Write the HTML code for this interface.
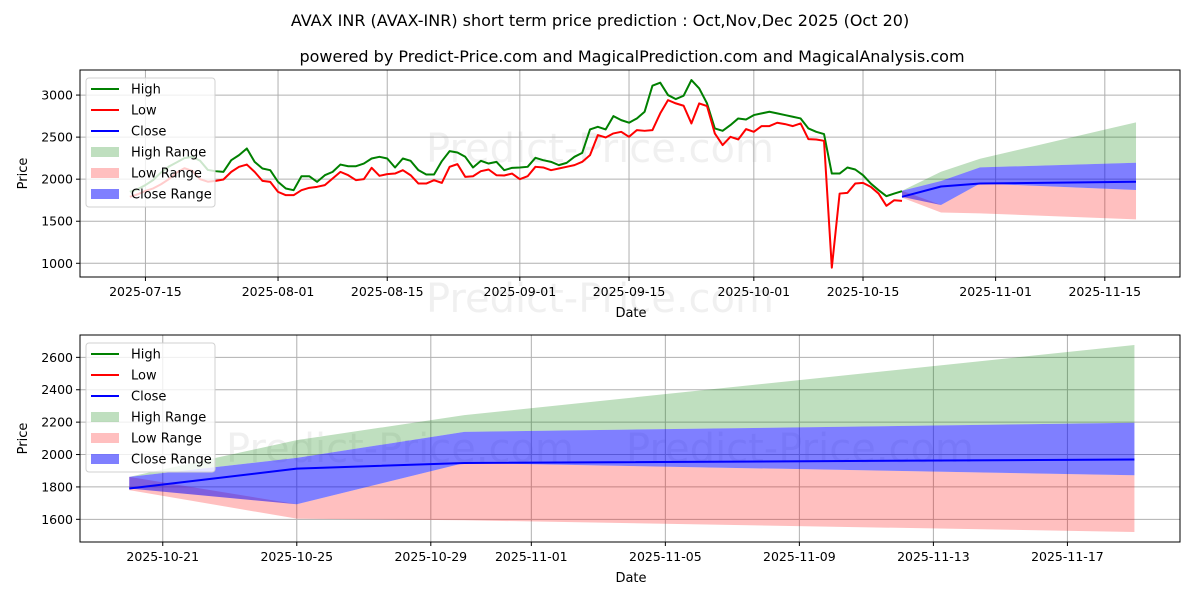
<!DOCTYPE html>
<html><head><meta charset="utf-8"><style>
html,body{margin:0;padding:0;background:#fff}
svg{display:block;font-family:"DejaVu Sans","Liberation Sans",sans-serif}
</style></head><body>
<svg id="chart" width="1200" height="600" viewBox="0 0 1200 600" xmlns="http://www.w3.org/2000/svg">
<text x="600" y="26" text-anchor="middle" font-size="16">AVAX INR (AVAX-INR) short term price prediction : Oct,Nov,Dec 2025 (Oct 20)</text>
<text x="632" y="62" text-anchor="middle" font-size="16">powered by Predict-Price.com and MagicalPrediction.com and MagicalAnalysis.com</text>
</svg>
<script>
// history: day index relative to 2025-07-15, starting day -2
const histStartDay = -2;
const highVals = [1850,1880,1930,1990,2080,2150,2200,2250,2265,2220,2110,2095,2087,2226,2286,2365,2206,2127,2107,1968,1889,1869,2035,2035,1968,2047,2087,2174,2154,2154,2186,2246,2266,2246,2139,2246,2218,2107,2055,2055,2214,2333,2317,2266,2139,2218,2186,2206,2107,2135,2139,2147,2254,2226,2206,2167,2194,2266,2313,2591,2623,2591,2750,2702,2671,2722,2802,3111,3147,3000,2952,2992,3179,3079,2901,2603,2575,2643,2722,2710,2762,2782,2802,2782,2762,2742,2722,2603,2563,2536,2067,2067,2139,2115,2047,1948,1869,1798,1829,1857];
const lowVals = [1790,1820,1860,1890,1940,2000,2080,2130,2100,2000,1970,1980,1996,2087,2147,2174,2087,1980,1968,1849,1810,1810,1869,1897,1909,1929,2008,2087,2047,1988,2000,2135,2040,2060,2067,2107,2047,1948,1948,1988,1956,2147,2179,2028,2035,2095,2115,2047,2044,2067,2000,2035,2147,2139,2107,2127,2147,2167,2206,2286,2524,2496,2544,2563,2504,2583,2575,2583,2782,2940,2901,2873,2663,2901,2869,2544,2405,2504,2472,2595,2563,2631,2631,2671,2655,2631,2663,2476,2472,2456,948,1829,1837,1948,1956,1909,1829,1683,1750,1742,1798];
// prediction
const predDays = [97,102,107,127];
const closeVals = [1790,1913,1948,1969];
const closeUpper = [1862,1979,2140,2196];
const closeLower = [1790,1693,1948,1872];
const highUpper = [1862,2089,2243,2676];
const highLower = [1862,1979,2140,2196];
const lowUpper = [1862,1693,1948,1872];
const lowLower = [1780,1604,1594,1522];
const topYTicks = [1000,1500,2000,2500,3000];
const topXTickDays = [0,17,31,48,62,78,92,109,123];
const topXTickLabels = ["2025-07-15","2025-08-01","2025-08-15","2025-09-01","2025-09-15","2025-10-01","2025-10-15","2025-11-01","2025-11-15"];
const botYTicks = [1600,1800,2000,2200,2400,2600];
const botXTickDays = [98,102,106,109,113,117,121,125];
const botXTickLabels = ["2025-10-21","2025-10-25","2025-10-29","2025-11-01","2025-11-05","2025-11-09","2025-11-13","2025-11-17"];

const NS="http://www.w3.org/2000/svg";
const svg=document.getElementById('chart');
function mk(tag,attrs,parent){const e=document.createElementNS(NS,tag);for(const k in attrs)e.setAttribute(k,attrs[k]);(parent||svg).appendChild(e);return e;}

function drawPanel(p){
  const g=mk('g',{});
  
  
  const X=d=>p.x0+(d-p.d0)*(p.x1-p.x0)/(p.d1-p.d0);
  const Y=v=>p.y1-(v-p.v0)*(p.y1-p.y0)/(p.v1-p.v0);
  for(const w of p.wm){const t=mk('text',{x:w[0],y:w[1],'font-size':40,fill:'#000','fill-opacity':0.06,'text-anchor':'middle'},g);t.textContent='Predict-Price.com';
    
    }
  p.yt.forEach(v=>{const l=mk('line',{x1:p.x0,x2:p.x1,y1:Y(v),y2:Y(v),stroke:'#b0b0b0','stroke-width':1},g);
    
    
    mk('line',{x1:p.x0-4,x2:p.x0,y1:Y(v),y2:Y(v),stroke:'#000'},g);
    const t=mk('text',{x:p.x0-7,y:Y(v)+4.5,'font-size':12.5,'text-anchor':'end'},g);t.textContent=v;
    
    });
  p.xt.forEach((d,i)=>{const l=mk('line',{x1:X(d),x2:X(d),y1:p.y0,y2:p.y1,stroke:'#b0b0b0','stroke-width':1},g);
    
    
    mk('line',{x1:X(d),x2:X(d),y1:p.y1,y2:p.y1+4,stroke:'#000'},g);
    const t=mk('text',{x:X(d),y:p.y1+19,'font-size':12.5,'text-anchor':'middle'},g);t.textContent=p.xl[i];
    
    });
  const clipId='clip'+p.name;
  const cp=mk('clipPath',{id:clipId},g);mk('rect',{x:p.x0,y:p.y0,width:p.x1-p.x0,height:p.y1-p.y0},cp);
  const pg=mk('g',{'clip-path':'url(#'+clipId+')'},g);
  function band(up,lo,fill,op,name){
    let d='M'+predDays.map((dd,i)=>X(dd)+','+Y(up[i])).join('L');
    for(let i=predDays.length-1;i>=0;i--)d+='L'+X(predDays[i])+','+Y(lo[i]);
    const e=mk('path',{d:d+'Z',fill:fill,'fill-opacity':op},pg);
    
    
  }
  band(highUpper,highLower,'#008000',0.25,'high-range-band');
  band(lowUpper,lowLower,'#ff0000',0.25,'low-range-band');
  band(closeUpper,closeLower,'#0000ff',0.5,'close-range-band');
  function line(vals,days,col,name,w){
    const e=mk('polyline',{points:vals.map((v,i)=>X(days[i])+','+Y(v)).join(' '),fill:'none',stroke:col,'stroke-width':w,'stroke-linejoin':'round'},pg);
    
    
  }
  if(p.hist){
    const hd=highVals.map((_,i)=>histStartDay+i);
    line(highVals,hd,'#008000','high-line',2);
    line(lowVals,hd,'#ff0000','low-line',2);
  }
  line(closeVals,predDays,'#0000ff','close-line',2);
  const fr=mk('rect',{x:p.x0,y:p.y0,width:p.x1-p.x0,height:p.y1-p.y0,fill:'none',stroke:'#000','stroke-width':1},g);
  
  
  const yl=mk('text',{transform:'translate(27,'+((p.y0+p.y1)/2)+') rotate(-90)','font-size':13,'text-anchor':'middle'},g);yl.textContent='Price';
  
  
  const xl=mk('text',{x:631,y:p.y1+40,'font-size':13,'text-anchor':'middle'},g);xl.textContent='Date';
  
  
  const lg=mk('g',{},g);
  
  
  const ly=p.y0+8;
  mk('rect',{x:86,y:ly,width:129,height:129,rx:3,fill:'#fff','fill-opacity':0.8,stroke:'#d0d0d0'},lg);
  const items=[['High','line','#008000',1],['Low','line','#ff0000',1],['Close','line','#0000ff',1],['High Range','patch','#008000',0.25],['Low Range','patch','#ff0000',0.25],['Close Range','patch','#0000ff',0.5]];
  items.forEach((it,i)=>{const cy=ly+11+i*21;
    const ent=mk('g',{},lg);
    
    
    if(it[1]==='line')mk('line',{x1:91,x2:119,y1:cy,y2:cy,stroke:it[2],'stroke-width':2},ent);
    else mk('rect',{x:91,y:cy-5,width:28,height:10,fill:it[2],'fill-opacity':it[3]},ent);
    const t=mk('text',{x:131,y:cy+4.5,'font-size':13},ent);t.textContent=it[0];});
}
drawPanel({name:'top-panel',hist:true,x0:80,x1:1180,y0:70,y1:277,d0:-8.39,d1:132.64,v0:837,v1:3298,yt:topYTicks,xt:topXTickDays,xl:topXTickLabels,wm:[[600,162],[600,312]]});
drawPanel({name:'bottom-panel',hist:false,x0:80,x1:1180,y0:335,y1:542,d0:95.53,d1:128.36,v0:1460,v1:2738,yt:botYTicks,xt:botXTickDays,xl:botXTickLabels,wm:[[400,462],[800,462]]});
</script>
</body></html>
